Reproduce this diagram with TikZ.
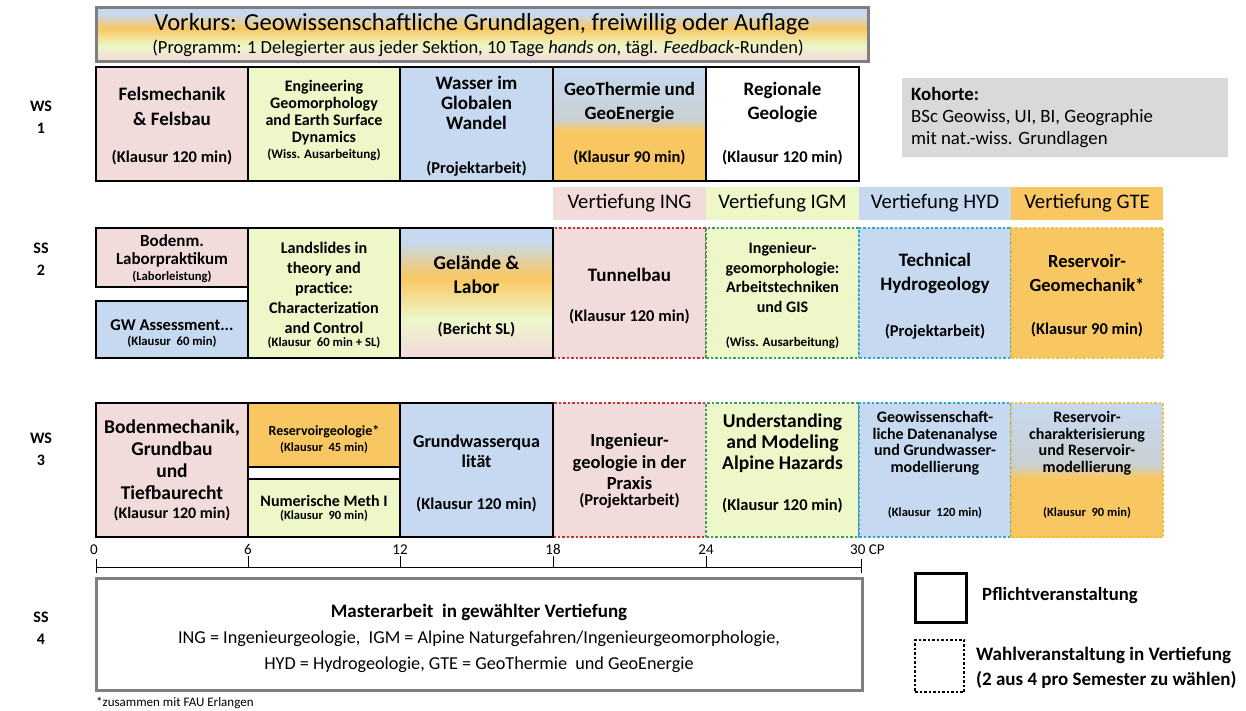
\documentclass[tikz,border=0pt]{standalone}
\usepackage{fontspec}
\setmainfont{Carlito}
\definecolor{cpink}{HTML}{F2DCDB}
\definecolor{cgreen}{HTML}{EDF7C8}
\definecolor{cblue}{HTML}{C6D9F0}
\definecolor{corange}{HTML}{F9C762}
\definecolor{cgrey}{HTML}{D9D9D9}
\definecolor{cframe}{HTML}{7F7F7F}
\definecolor{cgb}{HTML}{C9D0D2}
\definecolor{dred}{HTML}{D0302C}
\definecolor{dgreen}{HTML}{38A060}
\definecolor{dblue}{HTML}{2AA8E0}
\definecolor{dorange}{HTML}{EEC040}
\pgfdeclareverticalshading{vkshade}{100bp}{color(0bp)=(cpink); color(27bp)=(cpink); color(40bp)=(cgreen); color(56bp)=(corange); color(70bp)=(cblue); color(100bp)=(cblue)}
\pgfdeclareverticalshading{gteshade}{100bp}{color(0bp)=(corange); color(47bp)=(corange); color(52bp)=(cgb); color(75bp)=(cblue); color(100bp)=(cblue)}
\newcommand\fsz[2]{\fontsize{#1}{#2}\selectfont}
\tikzset{
  pbox/.style={draw=black, line width=2.7pt, fill=#1, inner sep=0pt},
  wbox/.style={draw=#1, line width=2.5pt, dash pattern=on 2.5pt off 2pt, inner sep=0pt},
  txt/.style={inner sep=0pt, align=center, text=black},
  hdr/.style={fill=#1, inner sep=0pt, minimum height=33pt, font=\fsz{20.7}{24}},
  sem/.style={inner sep=0pt, align=center, font=\bfseries\fsz{16}{22}},
  tick/.style={line width=1pt},
  cp/.style={inner sep=0pt, anchor=base, font=\fsz{15}{17}},
}
\begin{document}
\begin{tikzpicture}[x=1pt,y=-1pt]
\useasboundingbox (0,0) rectangle (1246,711);
\fill[white] (0,0) rectangle (1246,711);

% semester labels
\node[sem] (s1) at (41,117) {WS\\1};
\node[sem] (s2) at (41,259) {SS\\2};
\node[sem] (s3) at (41,449) {WS\\3};
\node[sem] (s4) at (41,628) {SS\\4};

% banner
\node[draw=cframe, line width=3pt, shade, shading=vkshade, inner sep=0pt, minimum width=772pt, minimum height=54pt] (vk) at (482,35) {};
\node[txt, font=\fsz{24.5}{28}] (vkT) at (482,24) {Vorkurs: Geowissenschaftliche Grundlagen, freiwillig oder Auflage};
\node[txt, font=\fsz{18.5}{21}] (vkS) at (478,48) {(Programm: 1 Delegierter aus jeder Sektion, 10 Tage \textit{hands on}, tägl. \textit{Feedback}-Runden)};

% Kohorte
\node[fill=cgrey, inner sep=0pt, minimum width=326pt, minimum height=79pt] (koh) at (1065,117.5) {};
\node[inner sep=0pt, align=left, anchor=west, font=\fsz{18.8}{22}] (kohT) at (911,118) {\textbf{Kohorte:}\\BSc Geowiss, UI, BI, Geographie\\mit nat.-wiss. Grundlagen};

% ---------- WS 1 ----------
\node[pbox=cpink, minimum width=152pt, minimum height=114pt] (fels) at (172,124) {};
\node[pbox=cgreen, minimum width=152pt, minimum height=114pt] (engg) at (324,124) {};
\node[pbox=cblue, minimum width=153pt, minimum height=114pt] (wass) at (476.5,124) {};
\node[draw=black, line width=2.7pt, shade, shading=gteshade, inner sep=0pt, minimum width=153pt, minimum height=114pt] (geoth) at (629.5,124) {};
\node[pbox=white, minimum width=153pt, minimum height=114pt] (regio) at (782.5,124) {};

\node[txt, font=\bfseries\fsz{19}{25}] (felsT) at (172,106) {Felsmechanik\\\& Felsbau};
\node[txt, font=\bfseries\fsz{16.5}{18}] (felsE) at (172,158) {(Klausur 120 min)};
\node[txt, font=\bfseries\fsz{16}{17}] (enggT) at (324,113) {Engineering\\Geomorphology\\and Earth Surface\\Dynamics};
\node[txt, font=\bfseries\fsz{13}{15}] (enggE) at (324,155) {(Wiss. Ausarbeitung)};
\node[txt, font=\bfseries\fsz{19}{20}] (wassT) at (476.5,103) {Wasser im\\Globalen\\Wandel};
\node[txt, font=\bfseries\fsz{16.5}{18}] (wassE) at (476.5,169) {(Projektarbeit)};
\node[txt, font=\bfseries\fsz{18.8}{24}] (geothT) at (629.5,102) {GeoThermie und\\GeoEnergie};
\node[txt, font=\bfseries\fsz{16.5}{18}] (geothE) at (629.5,158) {(Klausur 90 min)};
\node[txt, font=\bfseries\fsz{19}{24}] (regioT) at (782.5,102) {Regionale\\Geologie};
\node[txt, font=\bfseries\fsz{16.5}{18}] (regioE) at (782.5,158) {(Klausur 120 min)};

% ---------- Vertiefung headers ----------
\node[hdr=cpink, minimum width=153pt] (hING) at (629.5,203.5) {Vertiefung ING};
\node[hdr=cgreen, minimum width=153pt] (hIGM) at (782.5,203.5) {Vertiefung IGM};
\node[hdr=cblue, minimum width=152pt] (hHYD) at (935,203.5) {Vertiefung HYD};
\node[hdr=corange, minimum width=152pt] (hGTE) at (1087,203.5) {Vertiefung GTE};

% ---------- SS 2 ----------
\node[wbox=dred, fill=cpink, minimum width=153pt, minimum height=130pt] (tun) at (629.5,293) {};
\node[wbox=dgreen, fill=cgreen, minimum width=153pt, minimum height=130pt] (igm2) at (782.5,293) {};
\node[wbox=dblue, fill=cblue, minimum width=152pt, minimum height=130pt] (hyd2) at (935,293) {};
\node[wbox=dorange, fill=corange, minimum width=152pt, minimum height=130pt] (gte2) at (1087,293) {};

\node[pbox=cpink, minimum width=152pt, minimum height=59pt] (bodl) at (172,257.5) {};
\node[pbox=cblue, minimum width=152pt, minimum height=57pt] (gwa) at (172,329.5) {};
\node[pbox=cgreen, minimum width=152pt, minimum height=130pt] (lands) at (324,293) {};
\node[draw=black, line width=2.7pt, shade, shading=vkshade, inner sep=0pt, minimum width=153pt, minimum height=130pt] (gel) at (476.5,293) {};

\node[txt, font=\bfseries\fsz{17}{17.5}] (bodlT) at (172,251) {Bodenm.\\Laborpraktikum};
\node[txt, font=\bfseries\fsz{12.7}{14}] (bodlE) at (172,277) {(Laborleistung)};
\node[txt, font=\bfseries\fsz{16.5}{18}] (gwaT) at (172,325) {GW Assessment...};
\node[txt, font=\bfseries\fsz{12.7}{14}] (gwaE) at (172,342) {(Klausur~ 60 min)};
\node[txt, font=\bfseries\fsz{16.2}{20}] (landsT) at (324,287.5) {Landslides in\\theory and\\practice:\\Characterization\\and Control};
\node[txt, font=\bfseries\fsz{12.7}{14}] (landsE) at (324,343) {(Klausur~ 60 min + SL)};
\node[txt, font=\bfseries\fsz{19.5}{24}] (gelT) at (476.5,275) {Gelände \&\\Labor};
\node[txt, font=\bfseries\fsz{16.5}{18}] (gelE) at (476.5,330) {(Bericht SL)};
\node[txt, font=\bfseries\fsz{19}{20}] (tunT) at (629.5,275) {Tunnelbau};
\node[txt, font=\bfseries\fsz{16.5}{18}] (tunE) at (629.5,317) {(Klausur 120 min)};
\node[txt, font=\bfseries\fsz{16}{19.5}] (igm2T) at (782.5,277.5) {Ingenieur-\\geomorphologie:\\Arbeitstechniken\\und GIS};
\node[txt, font=\bfseries\fsz{13}{15}] (igm2E) at (782.5,343) {(Wiss. Ausarbeitung)};
\node[txt, font=\bfseries\fsz{19}{24}] (hyd2T) at (935,273.5) {Technical\\Hydrogeology};
\node[txt, font=\bfseries\fsz{16.5}{18}] (hyd2E) at (935,332) {(Projektarbeit)};
\node[txt, font=\bfseries\fsz{18.5}{24}] (gte2T) at (1087,273.5) {Reservoir-\\Geomechanik*};
\node[txt, font=\bfseries\fsz{16.5}{18}] (gte2E) at (1087,330) {(Klausur 90 min)};

% ---------- WS 3 ----------
\node[wbox=dred, fill=cpink, minimum width=153pt, minimum height=134pt] (ingp) at (629.5,470) {};
\node[wbox=dgreen, fill=cgreen, minimum width=153pt, minimum height=134pt] (uam) at (782.5,470) {};
\node[wbox=dblue, fill=cblue, minimum width=152pt, minimum height=134pt] (geod) at (935,470) {};
\node[wbox=dorange, shade, shading=gteshade, minimum width=152pt, minimum height=134pt] (resc) at (1087,470) {};

\node[pbox=cpink, minimum width=152pt, minimum height=134pt] (bodm) at (172,470) {};
\node[pbox=corange, minimum width=152pt, minimum height=64pt] (resg) at (324,435) {};
\node[pbox=cgreen, minimum width=152pt, minimum height=58pt] (num) at (324,508) {};
\node[pbox=cblue, minimum width=153pt, minimum height=134pt] (gwq) at (476.5,470) {};

\node[txt, font=\bfseries\fsz{19.5}{22}] (bodmT) at (172,460) {Bodenmechanik,\\Grundbau\\und\\Tiefbaurecht};
\node[txt, font=\bfseries\fsz{16}{18}] (bodmE) at (172,514) {(Klausur 120 min)};
\node[txt, font=\bfseries\fsz{14}{16}] (resgT) at (324,432) {Reservoirgeologie*};
\node[txt, font=\bfseries\fsz{12.5}{14}] (resgE) at (324,448) {(Klausur~ 45 min)};
\node[txt, font=\bfseries\fsz{16}{18}] (numT) at (324,501) {Numerische Meth I};
\node[txt, font=\bfseries\fsz{12.5}{14}] (numE) at (324,516) {(Klausur~ 90 min)};
\node[txt, font=\bfseries\fsz{18}{20}] (gwqT) at (476.5,451) {Grundwasserqua\\lität};
\node[txt, font=\bfseries\fsz{16.5}{18}] (gwqE) at (476.5,505) {(Klausur 120 min)};
\node[txt, font=\bfseries\fsz{18.5}{21.5}] (ingpT) at (629.5,462) {Ingenieur-\\geologie in der\\Praxis};
\node[txt, font=\bfseries\fsz{16.5}{18}] (ingpE) at (629.5,501) {(Projektarbeit)};
\node[txt, font=\bfseries\fsz{19.5}{21}] (uamT) at (782.5,443) {Understanding\\and Modeling\\Alpine Hazards};
\node[txt, font=\bfseries\fsz{16.5}{18}] (uamE) at (782.5,506) {(Klausur 120 min)};
\node[txt, font=\bfseries\fsz{16}{16.5}] (geodT) at (935,443) {Geowissenschaft-\\liche Datenanalyse\\und Grundwasser-\\modellierung};
\node[txt, font=\bfseries\fsz{12.5}{14}] (geodE) at (935,513) {(Klausur~ 120 min)};
\node[txt, font=\bfseries\fsz{16}{16.5}] (rescT) at (1087,443) {Reservoir-\\charakterisierung\\und Reservoir-\\modellierung};
\node[txt, font=\bfseries\fsz{12.5}{14}] (rescE) at (1087,513) {(Klausur~ 90 min)};

% ---------- scale ----------
\coordinate (c0) at (96,567);
\coordinate (c6) at (248,567);
\coordinate (c12) at (400,567);
\coordinate (c18) at (553,567);
\coordinate (c24) at (706,567);
\coordinate (c30) at (861,567);
\draw[tick] (c0) -- (c30);
\draw[tick] ([yshift=-6pt]c0) -- ([yshift=8pt]c0);
\draw[tick] ([yshift=-6pt]c30) -- ([yshift=8pt]c30);
\foreach \c in {c6,c12,c18,c24} \draw[tick] (\c) -- ([yshift=11pt]\c);
\node[cp] (l0) at (94,554) {0};
\node[cp] (l6) at (248,554) {6};
\node[cp] (l12) at (400,554) {12};
\node[cp] (l18) at (553,554) {18};
\node[cp] (l24) at (706,554) {24};
\node[cp, anchor=base west] (l30) at (850,554) {30 CP};

% ---------- SS 4 ----------
\node[draw=cframe, line width=3pt, fill=white, inner sep=0pt, minimum width=766pt, minimum height=112pt] (ma) at (479,634) {};
\node[txt, font=\bfseries\fsz{19}{22}] (maT) at (479,612) {Masterarbeit~ in gewählter Vertiefung};
\node[txt, font=\fsz{18.2}{26}] (maS) at (479,652) {ING = Ingenieurgeologie,~ IGM = Alpine Naturgefahren/Ingenieurgeomorphologie,\\HYD = Hydrogeologie, GTE = GeoThermie~ und GeoEnergie};
\node[inner sep=0pt, anchor=west, font=\fsz{13}{15}] (fn) at (96,703) {*zusammen mit FAU Erlangen};

% ---------- legend ----------
\node[draw=black, line width=3pt, inner sep=0pt, minimum width=51pt, minimum height=49pt] (lp) at (940.5,597.5) {};
\node[inner sep=0pt, anchor=west, font=\bfseries\fsz{18.7}{21}] (lpT) at (982,596) {Pflichtveranstaltung};
\node[draw=black, line width=2.5pt, dash pattern=on 2.5pt off 2pt, inner sep=0pt, minimum width=49pt, minimum height=52pt] (lw) at (939.5,666) {};
\node[inner sep=0pt, anchor=west, align=left, font=\bfseries\fsz{19}{25}] (lwT) at (976,667.5) {Wahlveranstaltung in Vertiefung\\(2 aus 4 pro Semester zu wählen)};
\end{tikzpicture}
\end{document}
